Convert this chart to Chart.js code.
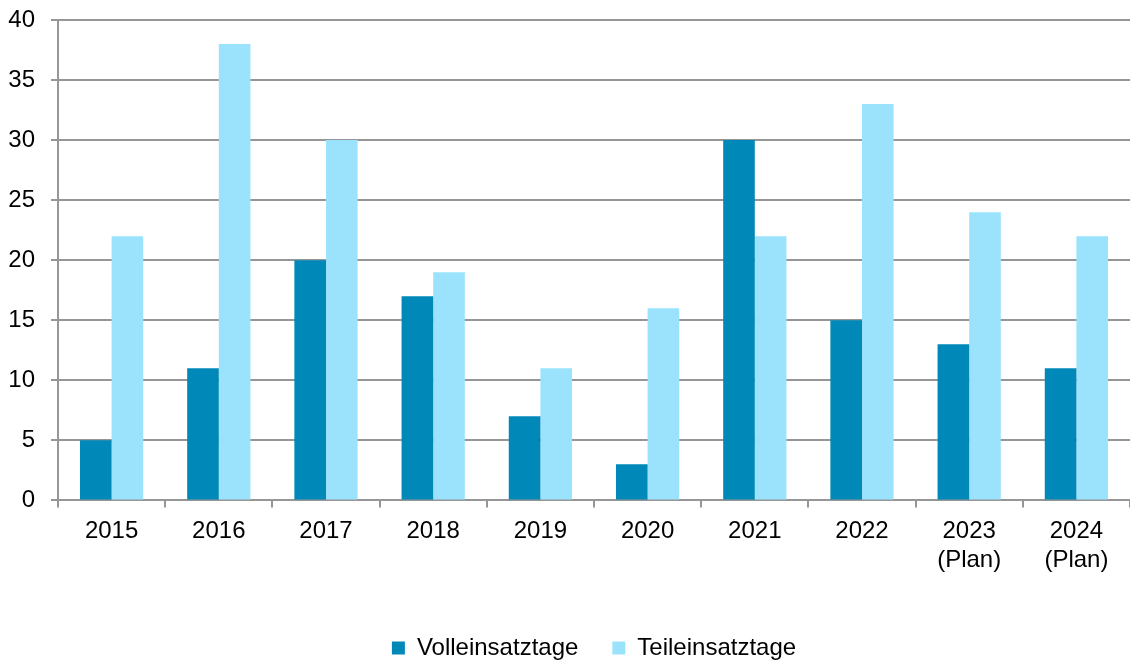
<!DOCTYPE html>
<html>
<head>
<meta charset="utf-8">
<script src="https://cdn.jsdelivr.net/npm/chart.js@4"></script>
<style>
    html, body { margin: 0; padding: 0; background: #ffffff; }
    #wrap { width: 1130px; height: 661px; }
</style>
</head>
<body>
<div id="wrap"><canvas id="einsatz-chart"></canvas></div>
<script>
const years = ["2015", "2016", "2017", "2018", "2019", "2020", "2021", "2022", ["2023", "(Plan)"], ["2024", "(Plan)"]];
const volleinsatztage = [5, 11, 20, 17, 7, 3, 30, 15, 13, 11];
const teileinsatztage = [22, 38, 30, 19, 11, 16, 22, 33, 24, 22];
const yTicks = [0, 5, 10, 15, 20, 25, 30, 35, 40];

const gridGrey = "rgba(150, 150, 150, 1)";
const fontMain = { family: "'Liberation Sans', Arial, sans-serif", size: 24 };

Chart.defaults.color = "#000000";

const ctx = document.querySelector("#einsatz-chart").getContext("2d");

new Chart(ctx, {
    type: "bar",
    data: {
        labels: years,
        datasets: [
            {
                label: "Volleinsatztage",
                data: volleinsatztage,
                backgroundColor: "#0088b8",
                borderWidth: 0,
            },
            {
                label: "Teileinsatztage",
                data: teileinsatztage,
                backgroundColor: "#9be3fd",
                borderWidth: 0,
            },
        ],
    },
    options: {
        responsive: true,
        maintainAspectRatio: false,
        animation: false,
        layout: {
            padding: { left: 0, top: 0, right: 0, bottom: -9 },
        },
        datasets: {
            bar: {
                categoryPercentage: 0.59,
                barPercentage: 1,
            },
        },
        scales: {
            x: {
                afterFit: (axis) => {
                    axis.height += 17;
                },
                grid: {
                    drawOnChartArea: false,
                    drawTicks: true,
                    tickLength: 7,
                    color: gridGrey,
                    lineWidth: 2,
                },
                border: { color: gridGrey, width: 2 },
                ticks: {
                    font: fontMain,
                    color: "#000000",
                    padding: 10,
                    maxRotation: 0,
                    autoSkip: false,
                },
            },
            y: {
                min: 0,
                max: 40,
                afterBuildTicks: (axis) => {
                    axis.ticks = yTicks.map((v) => ({ value: v }));
                },
                afterFit: (axis) => {
                    axis.width = 58;
                    axis.paddingTop = 20;
                },
                grid: {
                    color: gridGrey,
                    lineWidth: 2,
                    tickLength: 7,
                },
                border: { color: gridGrey, width: 2 },
                ticks: {
                    font: fontMain,
                    color: "#000000",
                    padding: 16,
                },
            },
        },
        plugins: {
            legend: {
                position: "bottom",
                fullSize: false,
                labels: {
                    font: fontMain,
                    color: "#000000",
                    boxWidth: 13,
                    boxHeight: 13,
                    padding: 34,
                },
            },
            tooltip: { enabled: false },
        },
    },
});
</script>
</body>
</html>
